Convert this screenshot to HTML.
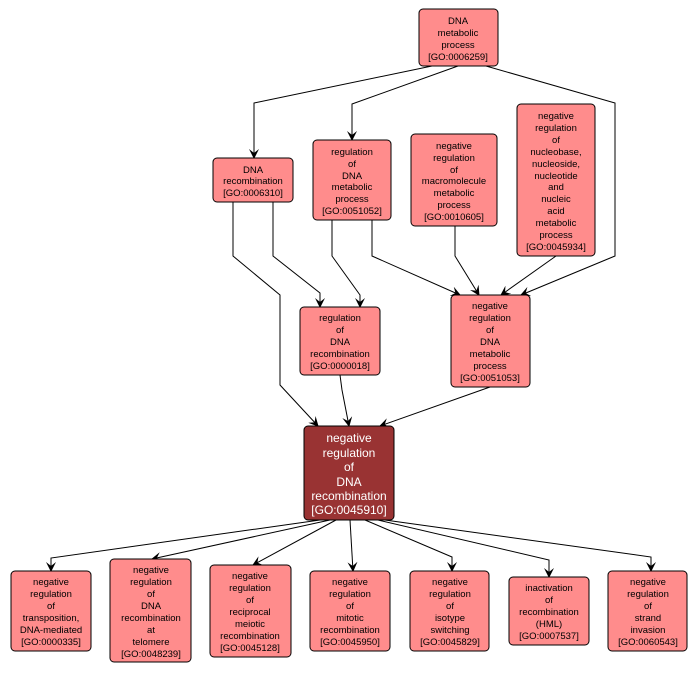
<!DOCTYPE html>
<html><head><meta charset="utf-8"><style>
body{margin:0;background:#fff;}
svg{display:block;font-family:"Liberation Sans",sans-serif;}
.n{fill:#ff8c8c;stroke:#000;stroke-width:1;}
.t{font-size:9.5px;text-anchor:middle;fill:#000;}
.w{font-size:12px;text-anchor:middle;fill:#fff;}
.e{fill:none;stroke:#000;stroke-width:1;marker-end:url(#a);}
</style></head><body>
<svg width="698" height="673" viewBox="0 0 698 673">
<defs><marker id="a" markerWidth="10" markerHeight="10" refX="9" refY="5" orient="auto" markerUnits="userSpaceOnUse"><path d="M0,0 L10,5 L0,10 L4,5 z" fill="#000"/></marker></defs>
<polyline class="e" points="432,66 254,103 254,158"/>
<polyline class="e" points="458,66 352,104 352,140"/>
<polyline class="e" points="486,66 615,103 615,256 521,295"/>
<polyline class="e" points="273,202 273,256 320,293 320,307"/>
<polyline class="e" points="233,202 233,256 280,295 280,385 318,426"/>
<polyline class="e" points="332,220 332,256 360,295 360,307"/>
<polyline class="e" points="372,220 372,256 460,295"/>
<polyline class="e" points="455,226 455,256 479,295"/>
<polyline class="e" points="556,256 501,295"/>
<polyline class="e" points="340,375 342,390 349,426"/>
<polyline class="e" points="490,387 380,426"/>
<polyline class="e" points="320,520 51,558 51,571"/>
<polyline class="e" points="330,520 152,559"/>
<polyline class="e" points="336,520 253,565"/>
<polyline class="e" points="350,520 353,571"/>
<polyline class="e" points="365,520 452,557 452,571"/>
<polyline class="e" points="378,520 549,560 549,577"/>
<polyline class="e" points="385,520 651,557 651,571"/>

<rect class="n" x="419" y="9" width="79" height="57" rx="4"/>
<text class="t"><tspan x="458" y="24">DNA</tspan><tspan x="458" y="36">metabolic</tspan><tspan x="458" y="48">process</tspan><tspan x="458" y="60">[GO:0006259]</tspan></text>

<rect class="n" x="213" y="158" width="80" height="44" rx="4"/>
<text class="t"><tspan x="253" y="173">DNA</tspan><tspan x="253" y="184">recombination</tspan><tspan x="253" y="196">[GO:0006310]</tspan></text>

<rect class="n" x="313" y="140" width="78" height="80" rx="4"/>
<text class="t"><tspan x="352" y="155">regulation</tspan><tspan x="352" y="167">of</tspan><tspan x="352" y="179">DNA</tspan><tspan x="352" y="190">metabolic</tspan><tspan x="352" y="202">process</tspan><tspan x="352" y="214">[GO:0051052]</tspan></text>

<rect class="n" x="411" y="134" width="86" height="92" rx="4"/>
<text class="t"><tspan x="454" y="149">negative</tspan><tspan x="454" y="161">regulation</tspan><tspan x="454" y="173">of</tspan><tspan x="454" y="184">macromolecule</tspan><tspan x="454" y="196">metabolic</tspan><tspan x="454" y="208">process</tspan><tspan x="454" y="220">[GO:0010605]</tspan></text>

<rect class="n" x="517" y="104" width="78" height="152" rx="4"/>
<text class="t"><tspan x="556" y="119">negative</tspan><tspan x="556" y="131">regulation</tspan><tspan x="556" y="143">of</tspan><tspan x="556" y="155">nucleobase,</tspan><tspan x="556" y="167">nucleoside,</tspan><tspan x="556" y="179">nucleotide</tspan><tspan x="556" y="190">and</tspan><tspan x="556" y="202">nucleic</tspan><tspan x="556" y="214">acid</tspan><tspan x="556" y="226">metabolic</tspan><tspan x="556" y="238">process</tspan><tspan x="556" y="250">[GO:0045934]</tspan></text>

<rect class="n" x="300" y="307" width="80" height="68" rx="4"/>
<text class="t"><tspan x="340" y="321">regulation</tspan><tspan x="340" y="333">of</tspan><tspan x="340" y="345">DNA</tspan><tspan x="340" y="357">recombination</tspan><tspan x="340" y="369">[GO:0000018]</tspan></text>

<rect class="n" x="451" y="295" width="79" height="92" rx="4"/>
<text class="t"><tspan x="490" y="309">negative</tspan><tspan x="490" y="321">regulation</tspan><tspan x="490" y="333">of</tspan><tspan x="490" y="345">DNA</tspan><tspan x="490" y="357">metabolic</tspan><tspan x="490" y="369">process</tspan><tspan x="490" y="381">[GO:0051053]</tspan></text>

<rect x="304" y="426" width="90" height="94" rx="4" fill="#993333" stroke="#000"/>
<text class="w"><tspan x="349" y="442">negative</tspan><tspan x="349" y="457">regulation</tspan><tspan x="349" y="471">of</tspan><tspan x="349" y="486">DNA</tspan><tspan x="349" y="500">recombination</tspan><tspan x="349" y="514">[GO:0045910]</tspan></text>

<rect class="n" x="11" y="571" width="80" height="80" rx="4"/>
<text class="t"><tspan x="51" y="585">negative</tspan><tspan x="51" y="597">regulation</tspan><tspan x="51" y="609">of</tspan><tspan x="51" y="621">transposition,</tspan><tspan x="51" y="633">DNA-mediated</tspan><tspan x="51" y="645">[GO:0000335]</tspan></text>

<rect class="n" x="110" y="559" width="81" height="103" rx="4"/>
<text class="t"><tspan x="151" y="573">negative</tspan><tspan x="151" y="585">regulation</tspan><tspan x="151" y="597">of</tspan><tspan x="151" y="609">DNA</tspan><tspan x="151" y="621">recombination</tspan><tspan x="151" y="633">at</tspan><tspan x="151" y="645">telomere</tspan><tspan x="151" y="657">[GO:0048239]</tspan></text>

<rect class="n" x="210" y="565" width="81" height="92" rx="4"/>
<text class="t"><tspan x="250" y="579">negative</tspan><tspan x="250" y="591">regulation</tspan><tspan x="250" y="603">of</tspan><tspan x="250" y="615">reciprocal</tspan><tspan x="250" y="627">meiotic</tspan><tspan x="250" y="639">recombination</tspan><tspan x="250" y="651">[GO:0045128]</tspan></text>

<rect class="n" x="310" y="571" width="80" height="80" rx="4"/>
<text class="t"><tspan x="350" y="585">negative</tspan><tspan x="350" y="597">regulation</tspan><tspan x="350" y="609">of</tspan><tspan x="350" y="621">mitotic</tspan><tspan x="350" y="633">recombination</tspan><tspan x="350" y="645">[GO:0045950]</tspan></text>

<rect class="n" x="410" y="571" width="79" height="80" rx="4"/>
<text class="t"><tspan x="450" y="585">negative</tspan><tspan x="450" y="597">regulation</tspan><tspan x="450" y="609">of</tspan><tspan x="450" y="621">isotype</tspan><tspan x="450" y="633">switching</tspan><tspan x="450" y="645">[GO:0045829]</tspan></text>

<rect class="n" x="509" y="577" width="80" height="68" rx="4"/>
<text class="t"><tspan x="549" y="591">inactivation</tspan><tspan x="549" y="603">of</tspan><tspan x="549" y="615">recombination</tspan><tspan x="549" y="627">(HML)</tspan><tspan x="549" y="639">[GO:0007537]</tspan></text>

<rect class="n" x="608" y="571" width="79" height="80" rx="4"/>
<text class="t"><tspan x="648" y="585">negative</tspan><tspan x="648" y="597">regulation</tspan><tspan x="648" y="609">of</tspan><tspan x="648" y="621">strand</tspan><tspan x="648" y="633">invasion</tspan><tspan x="648" y="645">[GO:0060543]</tspan></text>
</svg>
</body></html>
